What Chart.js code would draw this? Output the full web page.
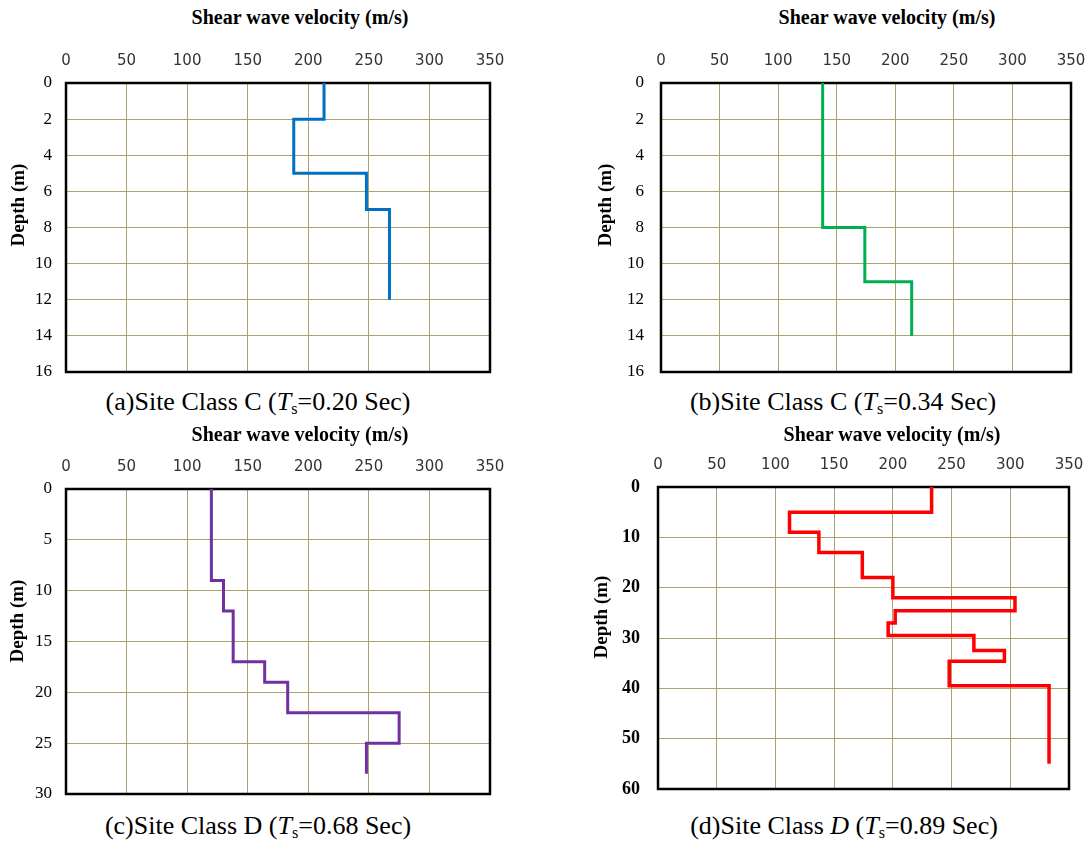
<!DOCTYPE html>
<html>
<head>
<meta charset="utf-8">
<script src="https://cdn.jsdelivr.net/npm/chart.js@4"></script>
<style>
  body { margin: 0; background: #fff; width: 1086px; height: 841px; position: relative; overflow: hidden; }
  .box { position: absolute; }
  .txt { position: absolute; transform: translate(-50%, -50%); white-space: nowrap; color: #000;
         font-family: 'Liberation Serif', 'Times New Roman', serif; }
  .ttl { font-weight: bold; font-size: 20px; }
  .dep { font-weight: bold; font-size: 19px; transform: translate(-50%, -50%) rotate(-90deg); }
  .cap { font-size: 26px; }
  .cap sub { font-size: 0.62em; vertical-align: -0.25em; line-height: 0; }
</style>
</head>
<body>

<div class="box" id="pa"><canvas id="ca"></canvas></div>
<div class="box" id="pb"><canvas id="cb"></canvas></div>
<div class="box" id="pc"><canvas id="cc"></canvas></div>
<div class="box" id="pd"><canvas id="cd"></canvas></div>

<div class="txt ttl" style="left:300px; top:17px;">Shear wave velocity (m/s)</div>
<div class="txt ttl" style="left:887px; top:17px;">Shear wave velocity (m/s)</div>
<div class="txt ttl" style="left:300px; top:434px;">Shear wave velocity (m/s)</div>
<div class="txt ttl" style="left:892px; top:434px;">Shear wave velocity (m/s)</div>

<div class="txt dep" style="left:18px; top:205px;">Depth (m)</div>
<div class="txt dep" style="left:605px; top:205px;">Depth (m)</div>
<div class="txt dep" style="left:17px; top:621px;">Depth (m)</div>
<div class="txt dep" style="left:601px; top:617px;">Depth (m)</div>

<div class="txt cap" style="left:258px; top:402px;">(a)Site Class C (<i>T</i><sub>s</sub>=0.20 Sec)</div>
<div class="txt cap" style="left:843px; top:402px;">(b)Site Class C (<i>T</i><sub>s</sub>=0.34 Sec)</div>
<div class="txt cap" style="left:258px; top:826px;">(c)Site Class D (<i>T</i><sub>s</sub>=0.68 Sec)</div>
<div class="txt cap" style="left:844px; top:826px;">(d)Site Class <i>D</i> (<i>T</i><sub>s</sub>=0.89 Sec)</div>

<script>
// layer boundaries (m) and shear wave velocity of each layer (m/s)
const depthA = [0, 2, 5, 7, 12];
const velA = [213, 188, 248, 267];

const depthB = [0, 8, 11, 14];
const velB = [138, 174, 214];

const depthC = [0, 9, 12, 17, 19, 22, 25, 28];
const velC = [120, 130, 138, 164, 183, 275, 248];

const depthD = [0, 5, 9, 13, 18, 22, 24.6, 27, 29.5, 32.5, 34.6, 39.5, 55];
const velD = [233, 112, 137, 174, 200, 304, 202, 196, 269, 295, 248, 333];

const velTicks = [0, 50, 100, 150, 200, 250, 300, 350];

const GRID = '#ada174';
const SERIF = "'Liberation Serif', 'Times New Roman', serif";

// turn layers into a stepped profile
function stepProfile(depths, vels) {
  const pts = [];
  vels.forEach((v, i) => {
    pts.push({ x: v, y: depths[i] });
    pts.push({ x: v, y: depths[i + 1] });
  });
  return pts;
}

// black frame round the plot area
const frame = {
  id: 'frame',
  beforeDatasetsDraw(chart) {
    const a = chart.chartArea;
    const ctx = chart.ctx;
    ctx.save();
    ctx.strokeStyle = '#000';
    ctx.lineWidth = 2.5;
    ctx.strokeRect(a.left, a.top, a.right - a.left, a.bottom - a.top);
    ctx.restore();
  }
};

function makePanel(id, boxId, box, depths, vels, color, yMax, yStep, boldY) {
  const el = document.getElementById(boxId);
  el.style.left = box.left + 'px';
  el.style.top = box.top + 'px';
  el.style.width = box.width + 'px';
  el.style.height = box.height + 'px';

  return new Chart(document.getElementById(id), {
    type: 'scatter',
    data: {
      datasets: [{
        data: stepProfile(depths, vels),
        showLine: true,
        borderColor: color,
        borderWidth: color === '#ff0000' ? 3.5 : 3,
        pointRadius: 0,
        tension: 0
      }]
    },
    options: {
      responsive: true,
      maintainAspectRatio: false,
      animation: false,
      layout: { padding: { left: 0, top: 0, right: box.padRight, bottom: box.padBottom } },
      plugins: { legend: { display: false }, tooltip: { enabled: false } },
      scales: {
        x: {
          type: 'linear',
          position: 'top',
          min: 0,
          max: 350,
          afterBuildTicks: s => { s.ticks = velTicks.map(v => ({ value: v })); },
          ticks: { padding: 13, color: '#333', font: { family: 'DejaVu Sans', size: 15 } },
          grid: { color: GRID, lineWidth: 1, drawTicks: false },
          border: { display: false },
          afterFit: s => { s.height = box.xH; s.paddingLeft = 0; s.paddingRight = 0; }
        },
        y: {
          type: 'linear',
          reverse: true,
          min: 0,
          max: yMax,
          ticks: { stepSize: yStep, padding: box.yPad, color: '#000',
                   font: { family: SERIF, size: boldY ? 18 : 17, weight: boldY ? 'bold' : 'normal' } },
          grid: { color: GRID, lineWidth: 1, drawTicks: false },
          border: { display: false },
          afterFit: s => { s.width = box.yW; s.paddingTop = 0; s.paddingBottom = 0; }
        }
      }
    },
    plugins: [frame]
  });
}

makePanel('ca', 'pa', { left: 0, top: 40, width: 520, height: 337, yW: 66, xH: 43, padRight: 30, padBottom: 5, yPad: 14 },
  depthA, velA, '#0070c0', 16, 2, false);
makePanel('cb', 'pb', { left: 615, top: 40, width: 471, height: 337, yW: 46, xH: 43, padRight: 15, padBottom: 5, yPad: 17 },
  depthB, velB, '#00b050', 16, 2, false);
makePanel('cc', 'pc', { left: 0, top: 440, width: 520, height: 360, yW: 66, xH: 49, padRight: 30, padBottom: 6, yPad: 14 },
  depthC, velC, '#7030a0', 30, 5, false);
makePanel('cd', 'pd', { left: 615, top: 440, width: 471, height: 355, yW: 43, xH: 47, padRight: 17, padBottom: 6, yPad: 18 },
  depthD, velD, '#ff0000', 60, 10, true);
</script>
</body>
</html>
